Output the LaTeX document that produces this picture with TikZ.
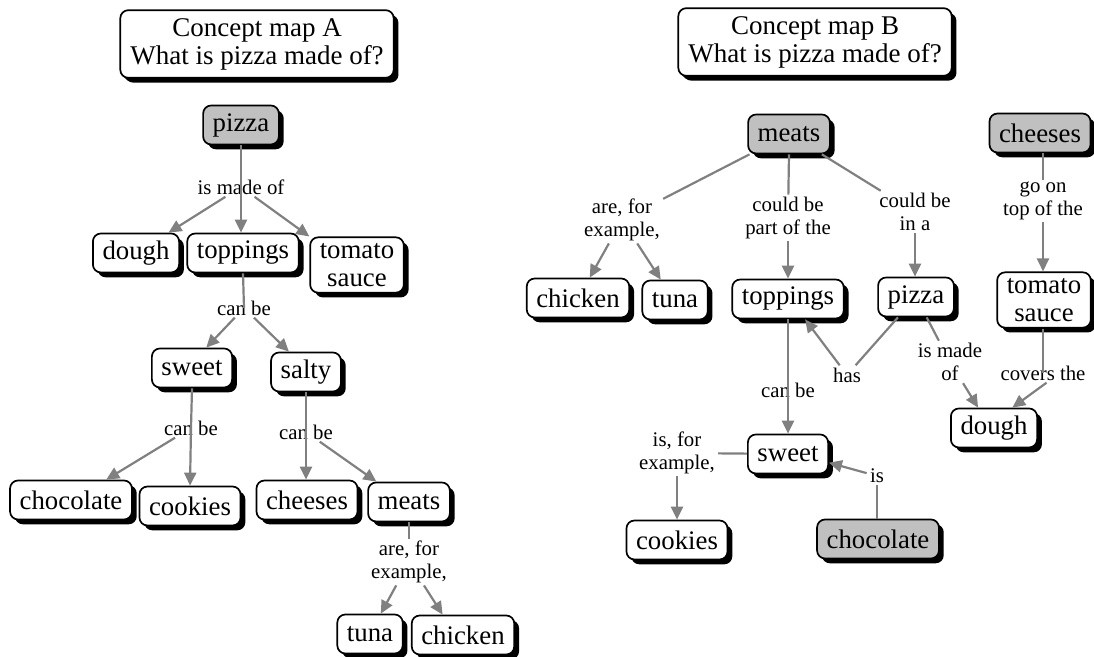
\documentclass[tikz,border=0pt]{standalone}
\usepackage{fontspec}
\setmainfont{Liberation Serif}
\usetikzlibrary{arrows.meta,shadows}
\definecolor{linkgray}{RGB}{128,128,128}
\definecolor{rootgray}{RGB}{192,192,192}
\begin{document}
\begin{tikzpicture}[x=0.5pt,y=-0.5pt,
  concept/.style={draw=black, line width=0.85pt, rounded corners=4pt, fill=white,
    font=\fontsize{13.4}{14}\selectfont, inner xsep=4.8pt, inner ysep=3pt,
    minimum height=19.5pt, align=center,
    drop shadow={shadow xshift=2.4pt, shadow yshift=-2.4pt, fill=black, opacity=1}},
  root/.style={concept, fill=rootgray},
  title/.style={concept, font=\fontsize{13.5}{14}\selectfont, inner xsep=5pt, inner ysep=4pt,
    drop shadow={shadow xshift=1.6pt, shadow yshift=-1.8pt, fill=black, opacity=1}},
  phrase/.style={font=\fontsize{10.4}{11.5}\selectfont, align=center, inner xsep=1.5pt, inner ysep=1pt},
  link/.style={draw=linkgray, line width=1.1pt},
  arr/.style={link, -{Triangle[length=6.5pt,width=6pt]}},
]
\useasboundingbox (0,0) rectangle (1094,657);

% ---------------- map A ----------------
\node[title] (titleA) at (257,44) {Concept map A\\What is pizza made of?};
\node[root] (pizzaA) at (241,125) {pizza};
\node[phrase] (isMadeA) at (241,187) {is made of};
\node[concept] (doughA) at (136,253) {dough};
\node[concept] (toppingsA) at (243,253) {toppings};
\node[concept] (tomatoA) at (357,265) {tomato\\sauce};
\node[phrase] (canbeA1) at (244,308) {can be};
\node[concept] (sweetA) at (192,368) {sweet};
\node[concept] (saltyA) at (306,372) {salty};
\node[phrase] (canbeA2) at (191,428) {can be};
\node[phrase] (canbeA3) at (306,432) {can be};
\node[concept] (chocolateA) at (71,500) {chocolate};
\node[concept] (cookiesA) at (190,506) {cookies};
\node[concept] (cheesesA) at (307,500) {cheeses};
\node[concept] (meatsA) at (409,502) {meats};
\node[phrase] (exA) at (409,562) {are, for\\example,};
\node[concept] (tunaA) at (370,634) {tuna};
\node[concept] (chickenA) at (463,635) {chicken};

\draw[link] (pizzaA.south) -- (isMadeA.center);
\draw[arr] (isMadeA.center) -- (toppingsA.north -| isMadeA);
\draw[arr] (isMadeA) -- (doughA.32);
\draw[arr] (isMadeA) -- (tomatoA.north west);
\draw[link] (toppingsA.south) -- (canbeA1.center);
\draw[arr] (canbeA1) -- (sweetA.55);
\draw[arr] (canbeA1) -- (saltyA.130);
\draw[link] (sweetA.south) -- (canbeA2.center);
\draw[arr] (canbeA2.center) -- (cookiesA.north);
\draw[arr] (canbeA2) -- (chocolateA.30);
\draw[link] (saltyA.south) -- (canbeA3.center);
\draw[arr] (canbeA3.center) -- (cheesesA.north -| canbeA3);
\draw[arr] (canbeA3) -- (meatsA.148);
\draw[link] (meatsA.south) -- (exA);
\draw[arr] (exA) -- (tunaA.62);
\draw[arr] (exA) -- (chickenA.135);

% ---------------- map B ----------------
\node[title] (titleB) at (815,42) {Concept map B\\What is pizza made of?};
\node[root] (meatsB) at (789,134) {meats};
\node[root] (cheesesB) at (1040,133) {cheeses};
\node[phrase] (exB) at (622,220) {are, for\\example,};
\node[concept] (chickenB) at (578,298) {chicken};
\node[concept] (tunaB) at (675,300) {tuna};
\node[phrase] (partB) at (788,218) {could be\\part of the};
\node[concept] (toppingsB) at (788,299) {toppings};
\node[phrase] (inaB) at (915,212) {could be\\in a};
\node[concept] (pizzaB) at (916,297) {pizza};
\node[phrase] (hasB) at (847,375) {has};
\node[phrase] (madeB) at (950,362) {is made\\of};
\node[phrase] (goonB) at (1043,201) {go on\\top of the};
\node[concept] (tomatoB) at (1044,300) {tomato\\sauce};
\node[phrase] (coversB) at (1043,373) {covers the};
\node[concept] (doughB) at (994,428) {dough};
\node[phrase] (canbeB) at (788,390) {can be};
\node[concept] (sweetB) at (788,454) {sweet};
\node[phrase] (isexB) at (677,453) {is, for\\example,};
\node[concept] (cookiesB) at (677,540) {cookies};
\node[root] (chocolateB) at (878,539) {chocolate};
\node[phrase] (isB) at (877,476) {is};

\draw[link] (meatsB) -- (exB);
\draw[arr] (exB) -- (chickenB.60);
\draw[arr] (exB) -- (tunaB.125);
\draw[link] (meatsB.south) -- (partB);
\draw[arr] (partB) -- (toppingsB.north -| partB);
\draw[link] (meatsB) -- (inaB);
\draw[arr] (inaB) -- (pizzaB.north -| inaB);
\draw[link] (pizzaB) -- (hasB);
\draw[arr] (hasB) -- (toppingsB.-50);
\draw[link] (pizzaB) -- (madeB);
\draw[arr] (madeB) -- (doughB.128);
\draw[link] (goonB |- cheesesB.south) -- (goonB);
\draw[arr] (goonB) -- (tomatoB.north -| goonB);
\draw[link] (tomatoB.south -| coversB) -- (coversB.center);
\draw[arr] (coversB.-70) -- (doughB.48);
\draw[link] (toppingsB.south) -- (canbeB.center);
\draw[arr] (canbeB.center) -- (sweetB.north);
\draw[link] (sweetB) -- (isexB);
\draw[arr] (isexB) -- (cookiesB.north -| isexB);
\draw[link] (chocolateB.north -| isB) -- (isB);
\draw[arr] (isB) -- (sweetB.-12);
\end{tikzpicture}
\end{document}
